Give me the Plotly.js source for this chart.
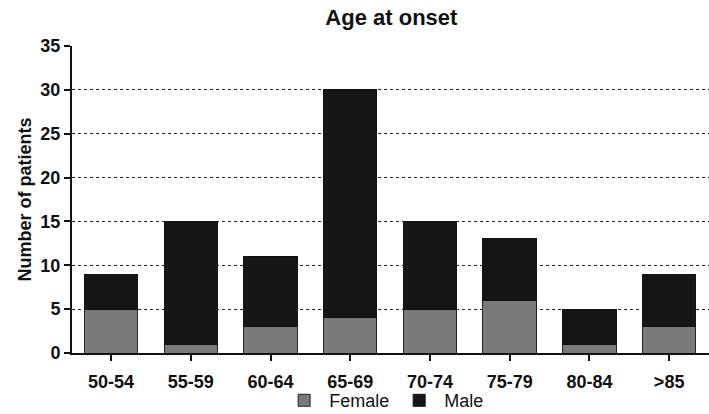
<!DOCTYPE html>
<html>
<head>
<meta charset="utf-8">
<script src="https://cdn.plot.ly/plotly-3.0.1.min.js"></script>
<style>html,body{margin:0;padding:0;background:#fff}#chart{width:709px;height:414px}</style>
</head>
<body>
<div id="chart"></div>
<script>
const categories = ["50-54","55-59","60-64","65-69","70-74","75-79","80-84",">85"];
const female = [5,1,3,4,5,6,1,3];
const male = [4,14,8,26,10,7,4,6];
const yTicks = [0,5,10,15,20,25,30,35];

const font = {family: "Liberation Sans, Arial, sans-serif", color: "#111"};
const traces = [
  {type: "bar", name: "Female", x: categories, y: female,
   marker: {color: "#7a7a7a", line: {color: "#222", width: 1}}, width: 0.67},
  {type: "bar", name: "Male", x: categories, y: male,
   marker: {color: "#161616", line: {color: "#111", width: 1}}, width: 0.67}
];
const layout = {
  width: 709, height: 414,
  barmode: "stack",
  margin: {l: 72, r: 0, t: 46, b: 61, autoexpand: false},
  paper_bgcolor: "#fff", plot_bgcolor: "#fff",
  font: font,
  title: {text: "<b>Age at onset</b>", x: 0.552, xanchor: "center", y: 0.958, yanchor: "middle",
          font: {family: font.family, size: 22, color: "#111"}},
  xaxis: {range: [-0.49, 7.5], showline: true, linecolor: "#111", linewidth: 2,
          ticks: "outside", ticklen: 6, tickwidth: 2, tickcolor: "#111", ticklabelstandoff: 5,
          tickfont: {family: font.family, size: 18, color: "#111", weight: "bold"},
          showgrid: false, zeroline: false, fixedrange: true, automargin: false},
  yaxis: {range: [0, 35], tickvals: yTicks, showline: true, linecolor: "#111", linewidth: 2,
          ticks: "outside", ticklen: 6, tickwidth: 2, tickcolor: "#111",
          tickfont: {family: font.family, size: 18, color: "#111", weight: "bold"},
          showgrid: true, gridcolor: "#222", griddash: "dot", gridwidth: 1,
          zeroline: false, automargin: false,
          title: {text: "<b>Number of patients</b>", standoff: 4,
                  font: {family: font.family, size: 18, color: "#111"}}},
  legend: {orientation: "h", x: 0.49, xanchor: "center", y: -0.155, yanchor: "middle",
           bgcolor: "rgba(0,0,0,0)",
           traceorder: "normal", font: {family: font.family, size: 18, color: "#111"},
           itemwidth: 40},
  showlegend: true
};
Plotly.newPlot("chart", traces, layout, {displayModeBar: false, staticPlot: true});
</script>
</body>
</html>
